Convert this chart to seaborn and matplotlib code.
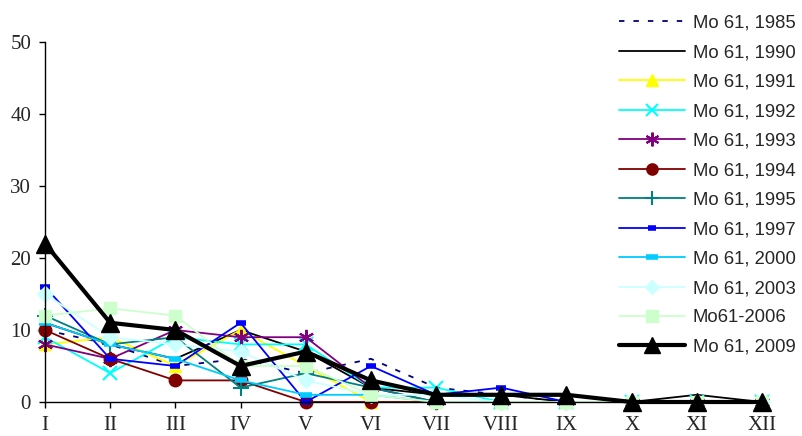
import matplotlib
matplotlib.use("Agg")
import matplotlib.pyplot as plt
import seaborn as sns
import pandas as pd

months = ["I", "II", "III", "IV", "V", "VI", "VII", "VIII", "IX", "X", "XI", "XII"]

labels = ["Mo 61, 1985", "Mo 61, 1990", "Mo 61, 1991", "Mo 61, 1992", "Mo 61, 1993",
          "Mo 61, 1994", "Mo 61, 1995", "Mo 61, 1997", "Mo 61, 2000", "Mo 61, 2003",
          "Mo61-2006", "Mo 61, 2009"]

v1985 = [10, 8, 5, 6, 4, 6, 2, 1, 0, 0, 0, 0]
v1990 = [11, 8, 6, 10, 7, 2, 1, 1, 0, 0, 1, 0]
v1991 = [8, 9, 5, 10, 5, 0, 0, 0, 0, 0, 0, 0]
v1992 = [9, 4, 9, 8, 8, 2, 2, 0, 0, 0, 0, 0]
v1993 = [8, 6, 10, 9, 9, 2, 0, 0, 0, 0, 0, 0]
v1994 = [10, 6, 3, 3, 0, 0, 0, 0, 0, 0, 0, 0]
v1995 = [12, 8, 9, 2, 4, 2, 0, 0, 0, 0, 0, 0]
v1997 = [16, 6, 5, 11, 0, 5, 1, 2, 0, 0, 0, 0]
v2000 = [11, 8, 6, 3, 1, 1, 0, 0, 0, 0, 0, 0]
v2003 = [15, 9, 8, 7, 3, 1, 1, 0, 0, 0, 0, 0]
v2006 = [12, 13, 12, 5, 5, 1, 0, 0, 0, 0, 0, 0]
v2009 = [22, 11, 10, 5, 7, 3, 1, 1, 1, 0, 0, 0]

series = [v1985, v1990, v1991, v1992, v1993, v1994, v1995, v1997, v2000, v2003, v2006, v2009]

styles = [
    dict(color="#000080", marker=None, lw=1.3, ls=(0, (3, 5)), ms=0, mew=1),
    dict(color="#000000", marker=None, lw=1.3, ls="-", ms=0, mew=1),
    dict(color="#FFFF00", marker="^", lw=1.3, ls="-", ms=9, mew=1),
    dict(color="#00FFFF", marker="x", lw=1.3, ls="-", ms=10, mew=1.5),
    dict(color="#800080", marker=(6, 2, 0), lw=1.3, ls="-", ms=11, mew=1.5),
    dict(color="#800000", marker="o", lw=1.3, ls="-", ms=9, mew=1),
    dict(color="#008080", marker="+", lw=1.3, ls="-", ms=11, mew=1.5),
    dict(color="#0000FF", marker="_", lw=1.3, ls="-", ms=7, mew=4),
    dict(color="#00CCFF", marker="_", lw=1.3, ls="-", ms=9, mew=4),
    dict(color="#CCFFFF", marker="D", lw=1.3, ls="-", ms=8, mew=1),
    dict(color="#CCFFCC", marker="s", lw=1.3, ls="-", ms=9, mew=1),
    dict(color="#000000", marker="^", lw=3.0, ls="-", ms=13, mew=1),
]

sns.set_style("white")
plt.rcParams["font.family"] = ["Liberation Serif", "DejaVu Serif"]

fig = plt.figure(figsize=(8.03, 4.36), dpi=100)
ax = fig.add_axes([45 / 803, 1 - 402 / 436, (762 - 45) / 803, (402 - 42) / 436])

xs = list(range(len(months)))
for lab, vals, st in zip(labels, series, styles):
    df = pd.DataFrame({"m": xs, "v": vals})
    sns.lineplot(data=df, x="m", y="v", ax=ax, color=st["color"], linewidth=st["lw"],
                 linestyle=st["ls"], marker=st["marker"], markersize=st["ms"],
                 markeredgewidth=st["mew"], markeredgecolor=st["color"],
                 legend=False, clip_on=False)
    ax.lines[-1].set_label(lab)

if ax.get_legend() is not None:
    ax.get_legend().remove()

ax.set_xlim(0, 11)
ax.set_ylim(0, 50)
ax.set_xticks(xs)
ax.set_xticklabels(months)
ax.set_yticks([0, 10, 20, 30, 40, 50])
ax.set_xlabel("")
ax.set_ylabel("")
for s in ["top", "right"]:
    ax.spines[s].set_visible(False)
for s in ["left", "bottom"]:
    ax.spines[s].set_color("black")
    ax.spines[s].set_linewidth(1.0)
ax.tick_params(axis="both", which="both", direction="out", length=4, width=1,
               color="black", labelsize=15, left=True, bottom=True)
ax.tick_params(axis="x", pad=6)
ax.tick_params(axis="y", pad=6)

handles = list(ax.lines)
labs = [h.get_label() for h in handles]
leg = fig.legend(handles, labs, loc="upper right", bbox_to_anchor=(1.0, 0.983),
                 frameon=False, prop={"family": "Liberation Sans", "size": 13.3},
                 handlelength=3.6, handletextpad=0.4, labelspacing=0.675,
                 borderaxespad=0.1, borderpad=0.3, markerscale=0.9)

fig.savefig("out.png", dpi=100)
